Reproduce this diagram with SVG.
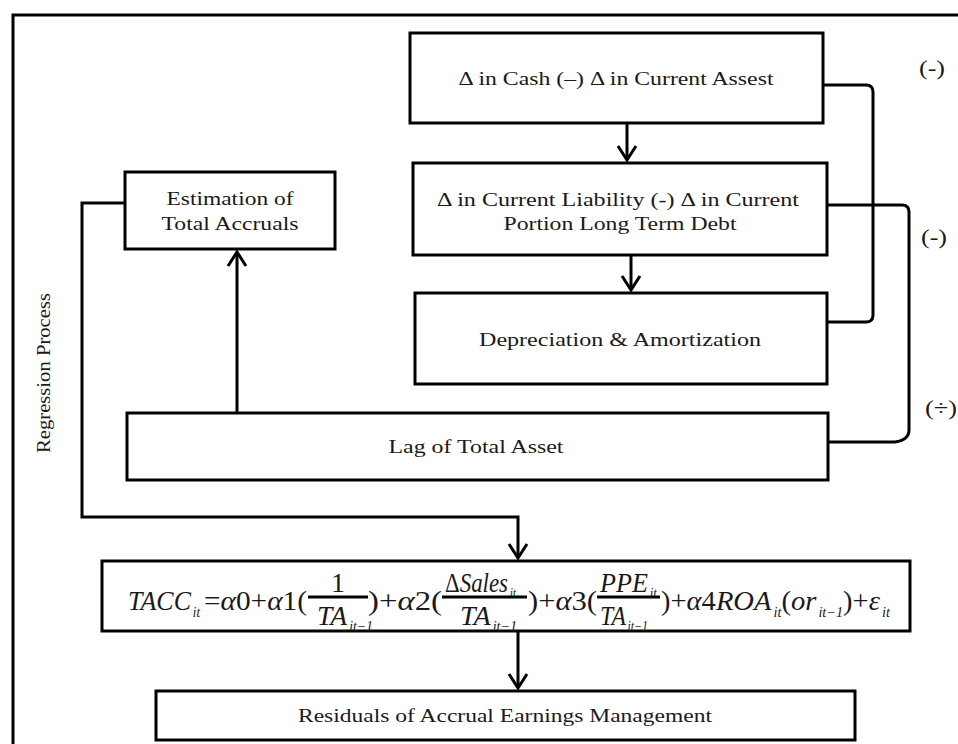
<svg xmlns="http://www.w3.org/2000/svg" width="958" height="744" viewBox="0 0 958 744">
<style>
.box{fill:#fff;stroke:#000;stroke-width:3}
.ln{fill:none;stroke:#000;stroke-width:3}
.t{font-family:"Liberation Serif","Times New Roman",serif;font-size:19px;fill:#1a1a1a}
.m{text-anchor:middle}
.f{font-family:"Liberation Serif","Times New Roman",serif;font-size:28px;fill:#1a1a1a}
.i{font-style:italic}
.s{font-size:14px;font-style:italic}
.lb{font-family:"Liberation Serif","Times New Roman",serif;font-size:21px;fill:#1a1a1a;text-anchor:middle}
</style>
<defs>
<marker id="ah" markerUnits="userSpaceOnUse" markerWidth="32" markerHeight="32" viewBox="-16 -16 32 32" refX="0" refY="0" orient="auto" overflow="visible">
<path d="M-14,-9 L0,0 L-14,9" fill="none" stroke="#000" stroke-width="3"/>
</marker>
</defs>
<rect width="958" height="744" fill="#fff"/>
<path id="frame" class="ln" d="M13,744 V15 H958" stroke-width="3.5"/>
<g id="connectors">
<path class="ln" d="M627,123 V160" marker-end="url(#ah)"/>
<path class="ln" d="M631,255 V290" marker-end="url(#ah)"/>
<path class="ln" d="M237,413 V252" marker-end="url(#ah)"/>
<path class="ln" d="M125,203 H82 V517 H518 V558" marker-end="url(#ah)"/>
<path class="ln" d="M518,631 V688" marker-end="url(#ah)"/>
<path class="ln" d="M823,85 H866 Q873,85 873,92 V315 Q873,322 866,322 H827"/>
<path class="ln" d="M827,205 H902 Q909,205 909,212 V430 Q909,440 895,442 H828"/>
</g>
<g id="labels">
<text class="lb" x="932" y="75" textLength="26" lengthAdjust="spacingAndGlyphs">(-)</text>
<text class="lb" x="934" y="244" textLength="26" lengthAdjust="spacingAndGlyphs">(-)</text>
<text class="lb" x="941" y="415" textLength="32" lengthAdjust="spacingAndGlyphs">(÷)</text>
<text class="t m" transform="translate(50,373) rotate(-90)" textLength="160" lengthAdjust="spacingAndGlyphs">Regression Process</text>
</g>
<g id="cash">
<rect class="box" x="410" y="33" width="413" height="90"/>
<text class="t m" x="616" y="85" textLength="315" lengthAdjust="spacingAndGlyphs">Δ in Cash (–) Δ in Current Assest</text>
</g>
<g id="liability">
<rect class="box" x="413" y="163" width="414" height="92"/>
<text class="t m" x="618" y="206" textLength="362" lengthAdjust="spacingAndGlyphs">Δ  in Current Liability (-) Δ  in Current</text>
<text class="t m" x="620" y="230" textLength="233" lengthAdjust="spacingAndGlyphs">Portion Long Term Debt</text>
</g>
<g id="depreciation">
<rect class="box" x="415" y="293" width="412" height="91"/>
<text class="t m" x="620" y="346" textLength="282" lengthAdjust="spacingAndGlyphs">Depreciation &amp; Amortization</text>
</g>
<g id="estimation">
<rect class="box" x="125" y="172" width="210" height="77"/>
<text class="t m" x="230" y="205" textLength="127" lengthAdjust="spacingAndGlyphs">Estimation of</text>
<text class="t m" x="230" y="230" textLength="137" lengthAdjust="spacingAndGlyphs">Total Accruals</text>
</g>
<g id="lag">
<rect class="box" x="127" y="413" width="701" height="67"/>
<text class="t m" x="476" y="453" textLength="175" lengthAdjust="spacingAndGlyphs">Lag of Total Asset</text>
</g>
<g id="formula">
<rect class="box" x="102" y="561" width="808" height="70"/>
<text class="f" x="128" y="610" textLength="72" lengthAdjust="spacingAndGlyphs"><tspan class="i">TACC</tspan><tspan class="s" dx="2" dy="7">it</tspan></text>
<text class="f" x="204" y="610" textLength="103" lengthAdjust="spacingAndGlyphs">=<tspan class="i">α</tspan>0+<tspan class="i">α</tspan>1(</text>
<text class="f m" x="338" y="592">1</text>
<path class="ln" d="M308,597 H368" stroke-width="1.5"/>
<text class="f" x="317" y="625" textLength="56" lengthAdjust="spacingAndGlyphs"><tspan class="i">TA</tspan><tspan class="s" dx="2" dy="6">it−1</tspan></text>
<text class="f" x="368" y="610" textLength="74" lengthAdjust="spacingAndGlyphs">)+<tspan class="i">α</tspan>2(</text>
<text class="f" x="445" y="592" textLength="71" lengthAdjust="spacingAndGlyphs">Δ<tspan class="i">Sales</tspan><tspan class="s" dx="2" dy="6">it</tspan></text>
<path class="ln" d="M442,597 H527" stroke-width="1.5"/>
<text class="f" x="460" y="625" textLength="57" lengthAdjust="spacingAndGlyphs"><tspan class="i">TA</tspan><tspan class="s" dx="2" dy="6">it−1</tspan></text>
<text class="f" x="528" y="610" textLength="69" lengthAdjust="spacingAndGlyphs">)+<tspan class="i">α</tspan>3(</text>
<text class="f" x="600" y="592" textLength="57" lengthAdjust="spacingAndGlyphs"><tspan class="i">PPE</tspan><tspan class="s" dx="2" dy="6">it</tspan></text>
<path class="ln" d="M597,597 H660" stroke-width="1.5"/>
<text class="f" x="600" y="625" textLength="48" lengthAdjust="spacingAndGlyphs"><tspan class="i">TA</tspan><tspan class="s" dx="2" dy="6">it−1</tspan></text>
<text class="f" x="661" y="610" textLength="229" lengthAdjust="spacingAndGlyphs">)+<tspan class="i">α</tspan>4<tspan class="i">ROA</tspan><tspan class="s" dx="2" dy="7">it</tspan><tspan dy="-7">(</tspan><tspan class="i">or</tspan><tspan class="s" dx="2" dy="7">it−1</tspan><tspan dy="-7">)+</tspan><tspan class="i">ε</tspan><tspan class="s" dx="2" dy="7">it</tspan></text>
</g>
<g id="residuals">
<rect class="box" x="156" y="691" width="699" height="49"/>
<text class="t m" x="505" y="722" textLength="414" lengthAdjust="spacingAndGlyphs">Residuals of Accrual Earnings Management</text>
</g>
</svg>
